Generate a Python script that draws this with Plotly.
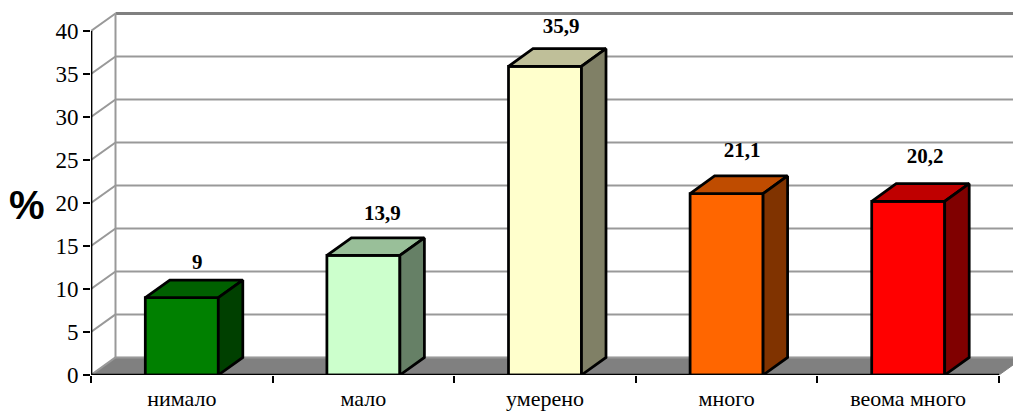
import plotly.graph_objects as go

categories = ["нимало", "мало", "умерено", "много", "веома много"]
values = [9, 13.9, 35.9, 21.1, 20.2]
value_labels = ["9", "13,9", "35,9", "21,1", "20,2"]
y_ticks = [0, 5, 10, 15, 20, 25, 30, 35, 40]
front_colors = ["#008000", "#CCFFCC", "#FFFFCC", "#FF6600", "#FF0000"]
top_colors = ["#006000", "#99BF99", "#BFBF99", "#BF4C00", "#BF0000"]
side_colors = ["#004000", "#668066", "#808066", "#803300", "#800000"]

# layout in pixels
W, H = 1013, 411
LEFT, BOTTOM_M = 91, 35.5
CAT_PX = 181.6
UNIT_PX = 8.61
DX_PX, DY_PX = 24.5, 17.6
plot_w = W - LEFT
plot_h = H - BOTTOM_M
DX = DX_PX / CAT_PX
DY = DY_PX / UNIT_PX
BAR_W = 73 / CAT_PX
label_dx_px = [15.5, 19, 16, 15.5, 17]
label_dy_px = [16, 23, 21, 24, 26]

n = len(categories)
xmax = plot_w / CAT_PX
ymax = plot_h / UNIT_PX
centers = [i + 0.5 for i in range(n)]

fig = go.Figure()

# front faces
fig.add_trace(go.Bar(
    x=centers, y=values, width=BAR_W,
    marker=dict(color=front_colors, line=dict(color="black", width=2.75)),
    hoverinfo="skip", showlegend=False,
))

# 3-D top and side faces from the values
for c, v, tc, sc in zip(centers, values, top_colors, side_colors):
    l, r = c - BAR_W / 2, c + BAR_W / 2
    fig.add_trace(go.Scatter(
        x=[l, r, r + DX, l + DX, l], y=[v, v, v + DY, v + DY, v],
        mode="lines", fill="toself", fillcolor=tc,
        line=dict(color="black", width=2.75), hoverinfo="skip", showlegend=False))
    fig.add_trace(go.Scatter(
        x=[r, r + DX, r + DX, r, r], y=[0, DY, v + DY, v, 0],
        mode="lines", fill="toself", fillcolor=sc,
        line=dict(color="black", width=2.75), hoverinfo="skip", showlegend=False))

# front axis lines, stopping at the last tick
fig.add_trace(go.Scatter(x=[0, 0], y=[0, max(y_ticks)], mode="lines", cliponaxis=False,
                         line=dict(color="black", width=2.75), hoverinfo="skip", showlegend=False))
fig.add_trace(go.Scatter(x=[0, n], y=[0, 0], mode="lines", cliponaxis=False,
                         line=dict(color="black", width=2.75), hoverinfo="skip", showlegend=False))

# value labels
fig.add_trace(go.Scatter(
    x=[c + d / CAT_PX for c, d in zip(centers, label_dx_px)],
    y=[v + DY + d / UNIT_PX for v, d in zip(values, label_dy_px)],
    mode="text", text=value_labels, textposition="middle center",
    textfont=dict(family="Liberation Serif", size=21, color="black"),
    texttemplate="<b>%{text}</b>", hoverinfo="skip", showlegend=False, cliponaxis=False))

# walls and floor
shapes = [dict(
    type="path", layer="below", xref="x", yref="y",
    path=f"M 0 0 L {n} 0 L {n + DX} {DY} L {DX} {DY} Z",
    fillcolor="#808080", line=dict(color="#808080", width=1))]
GRID = dict(color="#999999", width=2)
for t in y_ticks:
    top = t == max(y_ticks)
    line = dict(color="#808080", width=3) if top else GRID
    shapes.append(dict(type="line", layer="below", x0=0, y0=t, x1=DX, y1=t + DY, line=GRID))
    shapes.append(dict(type="line", layer="below", x0=DX, y0=t + DY, x1=xmax, y1=t + DY, line=line))
shapes.append(dict(type="line", layer="below", x0=DX, y0=DY, x1=DX, y1=max(y_ticks) + DY, line=GRID))

fig.update_layout(
    width=W, height=H,
    margin=dict(l=LEFT, r=0, t=0, b=BOTTOM_M, pad=0, autoexpand=False),
    paper_bgcolor="white", plot_bgcolor="white",
    shapes=shapes, showlegend=False, barmode="overlay",
    annotations=[dict(
        text="<b>%</b>", xref="paper", yref="y", x=0, y=20, xanchor="center", yanchor="middle",
        xshift=-64, yshift=-2, showarrow=False,
        font=dict(family="Liberation Sans", size=40, color="black"))],
    xaxis=dict(
        range=[0, xmax], showgrid=False, zeroline=False, showline=False, automargin=False,
        tickmode="array", tickvals=centers, ticktext=categories, ticks="",
        ticklabelstandoff=8,
        tickfont=dict(family="Liberation Serif", size=22, color="black"),
        minor=dict(tickmode="array", tickvals=list(range(n + 1)), ticks="outside",
                   ticklen=7, tickwidth=2, tickcolor="black", showgrid=False),
    ),
    yaxis=dict(
        range=[0, ymax], showgrid=False, zeroline=False, showline=False, automargin=False,
        tickmode="array", tickvals=y_ticks, ticks="outside",
        ticklen=7, tickwidth=2, tickcolor="black",
        tickfont=dict(family="Liberation Serif", size=23, color="black"),
    ),
)

fig.write_html("out.html", config=dict(displayModeBar=False),
               post_script="document.body.style.margin='0';")
